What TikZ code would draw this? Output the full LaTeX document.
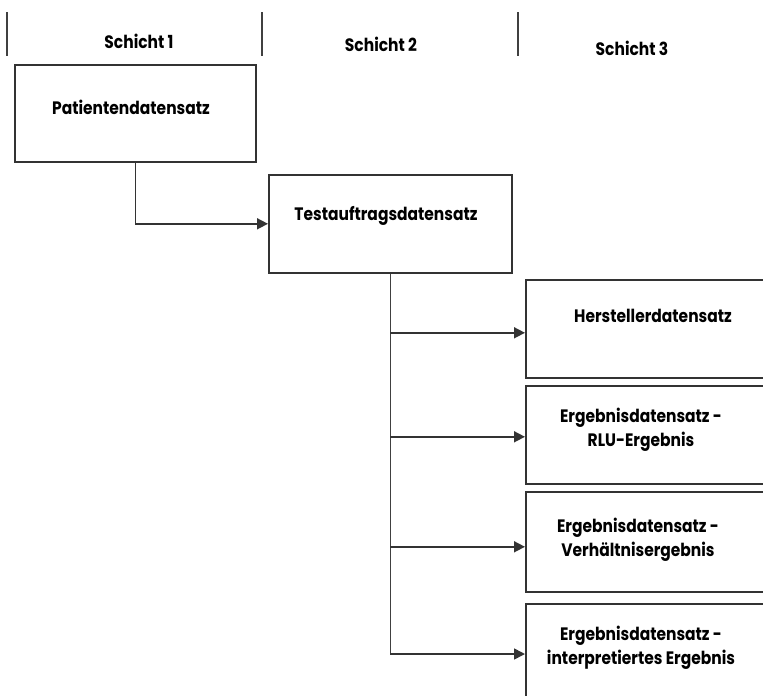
\documentclass[tikz,border=0pt]{standalone}
\usepackage{fontspec}
\setmainfont{Poppins}[FakeStretch=0.86]
\usetikzlibrary{arrows.meta}
\begin{document}
\begin{tikzpicture}[x=1pt,y=-1pt,
  rec/.style={draw=black!80, line width=1.6pt, fill=white, anchor=north west, inner sep=0},
  lbl/.style={font=\bfseries\fontsize{18}{24}\selectfont, align=center, inner sep=0, text=black},
  link/.style={draw=black!80, line width=1.6pt, -{Triangle[length=11pt,width=11pt]}},
  sep/.style={draw=black!75, line width=1.6pt}]
\useasboundingbox (0,0) rectangle (763,696);
\clip (0,0) rectangle (763,696);

% column headers
\coordinate (s0t) at (7,12);  \coordinate (s0b) at (7,56);
\coordinate (s1t) at (262,12); \coordinate (s1b) at (262,56);
\coordinate (s2t) at (518,12); \coordinate (s2b) at (518,56);
\draw[sep] (s0t) -- (s0b);
\draw[sep] (s1t) -- (s1b);
\draw[sep] (s2t) -- (s2b);
\node[lbl] (h1) at (139,41) {Schicht 1};
\node[lbl] (h2) at (381,44) {Schicht 2};
\node[lbl] (h3) at (632,48) {Schicht 3};

% record boxes
\node[rec, minimum width=241pt, minimum height=97pt] (pat) at (14,64) {};
\node[rec, minimum width=243pt, minimum height=98pt] (test) at (268,174) {};
\node[rec, minimum width=256pt, minimum height=98pt] (man) at (525,279) {};
\node[rec, minimum width=256pt, minimum height=98pt] (rlu) at (525,385) {};
\node[rec, minimum width=256pt, minimum height=100pt] (ratio) at (525,491) {};
\node[rec, minimum width=256pt, minimum height=110pt] (interp) at (525,603) {};

% box labels
\node[lbl] (tpat) at (131,107) {Patientendatensatz};
\node[lbl] (ttest) at (386,216) {Testauftragsdatensatz};
\node[lbl] (tman) at (653,316) {Herstellerdatensatz};
\node[lbl] (trlu) at (641,430) {Ergebnisdatensatz -\\RLU-Ergebnis};
\node[lbl] (tratio) at (638,540) {Ergebnisdatensatz -\\Verhältnisergebnis};
\node[lbl] (tinterp) at (641,648) {Ergebnisdatensatz -\\interpretiertes Ergebnis};

% connectors
\draw[link] (pat.south) |- (test.west);
\coordinate (a3) at ([yshift=-4pt]man.west);
\coordinate (a4) at ([yshift=-2pt]rlu.west);
\coordinate (a5) at ([yshift=-5pt]ratio.west);
\coordinate (a6) at (interp.west |- 0,654);
\draw[sep] (test.south) -- (test.south |- a6);
\draw[link] (test.south |- a3) -- (a3);
\draw[link] (test.south |- a4) -- (a4);
\draw[link] (test.south |- a5) -- (a5);
\draw[link] (test.south |- a6) -- (a6);
\end{tikzpicture}
\end{document}
